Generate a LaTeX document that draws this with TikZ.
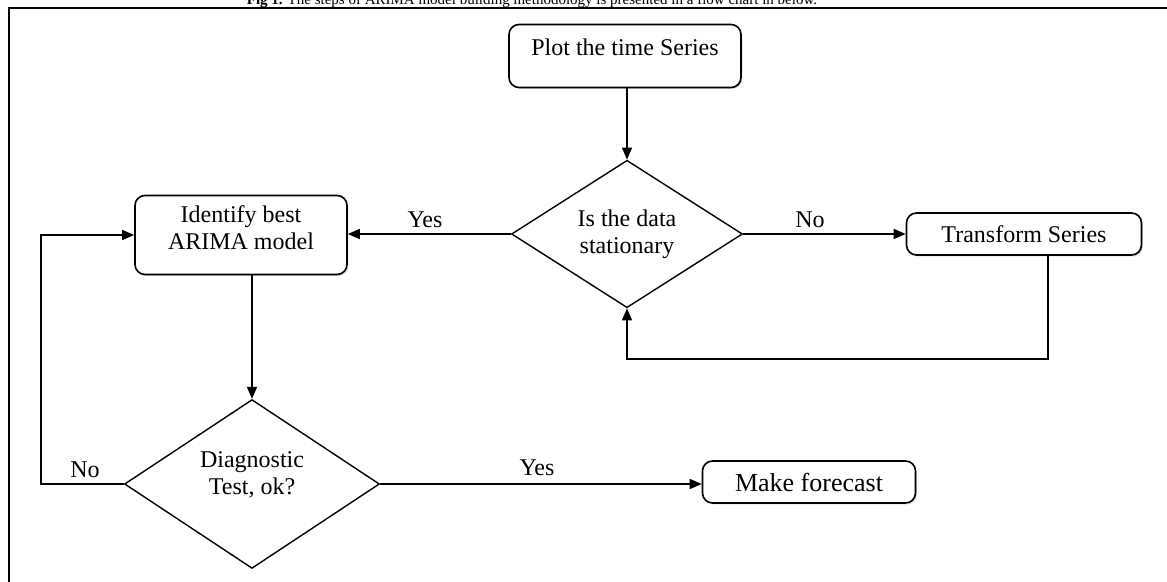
\documentclass[tikz,border=0pt]{standalone}
\usepackage{fontspec}
\setmainfont{Liberation Serif}
\usetikzlibrary{shapes.geometric,arrows.meta,shadows}
\tikzset{
  box/.style={draw, rounded corners=5pt, fill=white, line width=0.8pt, align=center,
    font=\fontsize{12}{13.5}\selectfont,
    drop shadow={shadow xshift=0.7pt, shadow yshift=-0.7pt, opacity=0.3}},
  decision/.style={draw, diamond, inner sep=0pt, line width=0.7pt, align=center,
    font=\fontsize{12}{13.5}\selectfont},
  flow/.style={line width=0.8pt, -{Triangle[length=6pt,width=5pt]}},
  tag/.style={font=\fontsize{12}{14}\selectfont}
}
\begin{document}
\begin{tikzpicture}[x=0.5pt,y=-0.5pt]
    %% page
    \useasboundingbox (0,0) rectangle (1167,582);
    \clip (0,0) rectangle (1167,582);
    \fill[white] (0,0) rectangle (1167,582);
    %% caption and frame
    \node[anchor=base, inner sep=0pt, font=\fontsize{7.5}{9}\selectfont] (caption) at (532,5)
        {\textbf{Fig 1.} The steps of ARIMA model building methodology is presented in a flow chart in below.};
    \draw[line width=1.2pt] (9,582) -- (9,8) -- (1167,8);
    %% steps
    \node[box, minimum width=116pt, minimum height=31.5pt, text depth=8.5pt] (plot) at (625,56) {Plot the time Series};
    \node[decision, minimum width=115.5pt, minimum height=62.5pt] (stat) at (627,234) {Is the data\\stationary};
    \node[box, minimum width=117.5pt, minimum height=21pt] (trans) at (1024,234) {Transform Series};
    \node[box, minimum width=106pt, minimum height=39.5pt, text depth=7pt] (ident) at (241,235) {Identify best\\ARIMA model};
    \node[decision, minimum width=127.5pt, minimum height=83pt, text depth=11pt] (diag) at (252,484) {Diagnostic\\Test, ok?};
    \node[box, minimum width=106.5pt, minimum height=21pt, font=\fontsize{13}{15}\selectfont] (fcast) at (809,482) {Make forecast};
    %% bends
    \coordinate (back) at (1048,359);
    \coordinate (retry) at (41,484);
    %% connectors
    \draw[flow] (plot.south -| stat.north) -- (stat.north);
    \draw[flow] (stat.west) -- (stat.west -| ident.east);
    \draw[flow] (stat.east) -- (stat.east -| trans.west);
    \draw[flow] (trans.south -| back) -- (back) -| (stat.south);
    \draw[flow] (ident.south -| diag.north) -- (diag.north);
    \draw[flow] (diag.west) -- (retry) |- (ident.west);
    \draw[flow] (diag.east) -- (diag.east -| fcast.west);
    %% labels
    \node[tag] (yes1) at (425,220) {Yes};
    \node[tag] (no1) at (810,220) {No};
    \node[tag] (no2) at (85,470) {No};
    \node[tag] (yes2) at (537,468) {Yes};
\end{tikzpicture}
\end{document}
